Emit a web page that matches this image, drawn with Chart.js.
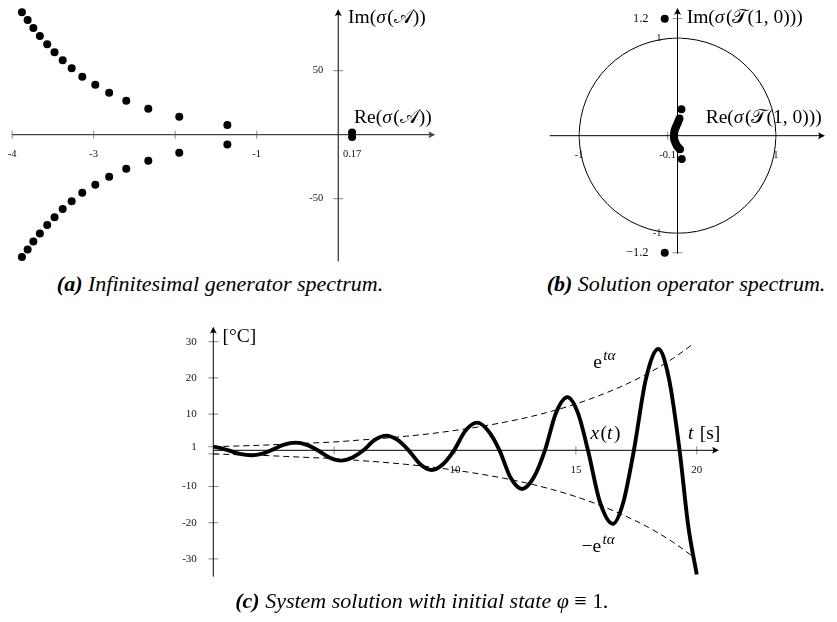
<!DOCTYPE html>
<html>
<head>
<meta charset="utf-8">
<script src="https://cdn.jsdelivr.net/npm/chart.js@4/dist/chart.umd.min.js"></script>
<style>
  html, body { margin: 0; padding: 0; background: #fff; }
  body { width: 837px; height: 622px; position: relative; overflow: hidden; font-family: "Liberation Serif", serif; color: #000; }
  canvas { position: absolute; }
  .cap { position: absolute; font-style: italic; font-size: 22px; white-space: nowrap; line-height: 1; transform: translateX(-50%); }
  .cap b { font-weight: bold; }
  .cap .up { font-style: normal; }
</style>
</head>
<body>
<canvas id="genChart" width="450" height="270" style="left:0;top:0"></canvas>
<canvas id="opChart" width="307" height="270" style="left:530px;top:0"></canvas>
<canvas id="solChart" width="600" height="290" style="left:160px;top:300px"></canvas>
<div class="cap" style="left:220px;top:273px"><b>(a)</b> Infinitesimal generator spectrum.</div>
<div class="cap" style="left:686px;top:273px"><b>(b)</b> Solution operator spectrum.</div>
<div class="cap" style="left:422px;top:590px"><b>(c)</b> System solution with initial state φ <span class="up">≡ 1</span>.</div>
<script>
// ---- (a) spectrum of the infinitesimal generator (upper branch; lower branch is its conjugate)
const genRe = [-3.88, -3.81, -3.74, -3.66, -3.57, -3.48, -3.38, -3.27, -3.14, -2.98, -2.81, -2.60, -2.33, -1.95, -1.36];
const genIm = [95.6, 89.6, 83.4, 77.1, 70.6, 64.4, 58.1, 51.9, 45.3, 39.1, 32.8, 26.6, 20.3, 14.1, 7.6];
const genRealRe = [0.17, 0.17];
const genRealIm = [1.8, -1.8];
const genXTickVals = [-4, -3, -2, -1, 0.17];
const genXTickText = ['-4', '-3', '', '-1', '0.17'];
const genYTickVals = [50, -50];
const genYTickText = ['50', '-50'];

// ---- (b) spectrum of the solution operator T(1,0)
const opRe = [-0.13, 0.04, 0.02, 0.01, 0.0, -0.012, -0.022, -0.03, -0.035, -0.037, -0.036, -0.03, -0.02, -0.008, 0.008, 0.025, 0.043, -0.13];
const opIm = [1.2, 0.27, 0.175, 0.15, 0.125, 0.1, 0.075, 0.05, 0.025, 0.0, -0.025, -0.05, -0.075, -0.1, -0.12, -0.14, -0.24, -1.2];
const opXTickVals = [-1, -0.1, 1];
const opXTickText = ['-1', '-0.1', '1'];
const opYTickVals = [1.2, 1, -1, -1.2];
const opYTickText = ['1.2', '1', '-1', '\u22121.2'];
const unitRadius = 1;

// ---- (c) system solution x(t) and its exponential envelope
const solT = [0.00, 0.30, 0.63, 1.10, 1.59, 2.00, 2.40, 2.90, 3.41, 3.87, 4.32, 4.80, 5.28, 5.75, 6.21, 6.68, 7.15, 7.62, 8.08, 8.56, 9.04, 9.50, 9.96, 10.43, 10.91, 11.37, 11.84, 12.30, 12.77, 13.25, 13.72, 14.18, 14.65, 15.08, 15.50, 16.00, 16.53, 16.96, 17.40, 17.90, 18.41, 18.85, 19.29, 19.65, 20.00];
const solX = [1.00, 0.60, 0.00, -1.00, -1.38, -1.00, 0.00, 1.50, 2.12, 1.50, 0.00, -2.00, -2.85, -2.00, 0.00, 2.85, 4.05, 2.85, 0.00, -3.85, -5.43, -3.85, 0.00, 5.40, 7.64, 5.40, 0.00, -7.60, -10.70, -7.60, 0.00, 10.40, 14.70, 10.40, 0.00, -14.40, -20.30, -14.40, 0.00, 19.80, 28.00, 19.80, 0.00, -21.00, -34.30];
const envT = [0, 1, 2, 3, 4, 5, 6, 7, 8, 9, 10, 11, 12, 13, 14, 15, 16, 17, 18, 19, 19.9];
const envUp = [1.0, 1.2, 1.4, 1.7, 2.0, 2.3, 2.8, 3.3, 3.9, 4.6, 5.5, 6.5, 7.7, 9.1, 10.8, 12.8, 15.2, 18.0, 21.3, 25.3, 29.6];
const envLow = [-1.0, -1.2, -1.4, -1.7, -2.0, -2.3, -2.8, -3.3, -3.9, -4.6, -5.5, -6.5, -7.7, -9.1, -10.8, -12.8, -15.2, -18.0, -21.3, -25.3, -29.6];
const solXTickVals = [5, 10, 15, 20];
const solXTickText = ['', '10', '15', '20'];
const solYTickVals = [30, 20, 10, 1, -1, -10, -20, -30];
const solYTickText = ['30', '20', '10', '1', '', '-10', '-20', '-30'];

const SERIF = '"Liberation Serif", "DejaVu Serif", serif';
const MATH = '"DejaVu Serif", "DejaVu Sans", serif';

function pts(xs, ys, sign) {
  return xs.map((x, i) => ({ x: x, y: (sign || 1) * ys[i] }));
}

// Rich text: parts are [text, style] with r = roman, i = italic, m = math script, si = italic superscript
function drawRich(ctx, x, y, parts, size) {
  let cx = x;
  ctx.textBaseline = 'alphabetic';
  ctx.textAlign = 'left';
  for (const [txt, st] of parts) {
    const sup = st.startsWith('s');
    const fs = sup ? size * 0.78 : size;
    const fam = st === 'm' ? MATH : SERIF;
    ctx.font = (st.includes('i') ? 'italic ' : '') + fs + 'px ' + fam;
    if (sup) cx += 1.5;
    ctx.fillText(txt, cx, sup ? y - size * 0.42 : y);
    cx += ctx.measureText(txt).width + (st === 'i' ? 1.5 : 0);
  }
}

function arrowHead(ctx, x, y, dir) {
  ctx.save();
  ctx.translate(x, y);
  if (dir === 'up') ctx.rotate(-Math.PI / 2);
  ctx.beginPath();
  ctx.moveTo(0, 0);
  ctx.lineTo(-7, -3.5);
  ctx.quadraticCurveTo(-4.5, 0, -7, 3.5);
  ctx.closePath();
  ctx.fill();
  ctx.restore();
}

// Axes through the origin with crossing tick marks, drawn from the chart's own scales
function axesPlugin(cfg) {
  return {
    id: 'axesThroughOrigin',
    beforeDatasetsDraw(chart) {
      const ctx = chart.ctx;
      const xs = chart.scales.x, ys = chart.scales.y;
      const x0 = xs.getPixelForValue(0), y0 = ys.getPixelForValue(0);
      ctx.save();
      if (cfg.extra) cfg.extra(chart, ctx);
      // tick marks
      ctx.strokeStyle = cfg.tickColor;
      ctx.lineWidth = 1;
      cfg.xTicks.forEach(v => {
        const px = xs.getPixelForValue(v);
        ctx.beginPath(); ctx.moveTo(px, y0 - cfg.tickLen); ctx.lineTo(px, y0 + cfg.tickLen); ctx.stroke();
      });
      cfg.yTicks.forEach(v => {
        const py = ys.getPixelForValue(v);
        ctx.beginPath(); ctx.moveTo(x0 - cfg.tickLen - 1, py); ctx.lineTo(x0 + cfg.tickLen + 1, py); ctx.stroke();
      });
      // tick labels
      ctx.fillStyle = '#111';
      ctx.textBaseline = 'middle';
      ctx.textAlign = 'center';
      cfg.xTicks.forEach((v, i) => {
        ctx.font = cfg.tickFont + 'px ' + SERIF;
        ctx.fillText(cfg.xText[i], xs.getPixelForValue(v), y0 + cfg.xLabelGap);
      });
      ctx.textAlign = 'right';
      cfg.yTicks.forEach((v, i) => {
        const big = cfg.bigY && cfg.bigY.includes(v);
        ctx.font = (big ? cfg.bigFont : cfg.tickFont) + 'px ' + SERIF;
        const gap = big ? cfg.bigGap : cfg.yLabelGap;
        ctx.fillText(cfg.yText[i], x0 - gap, ys.getPixelForValue(v));
      });
      // axis lines with arrows
      const xa = xs.getPixelForValue(cfg.xFrom), xb = xs.getPixelForValue(cfg.xTo);
      const ya = ys.getPixelForValue(cfg.yFrom), yb = ys.getPixelForValue(cfg.yTo);
      ctx.lineWidth = cfg.xAxisWidth;
      ctx.strokeStyle = cfg.xAxisColor;
      ctx.fillStyle = cfg.xAxisColor;
      ctx.beginPath(); ctx.moveTo(xa, y0); ctx.lineTo(xb - 3, y0); ctx.stroke();
      arrowHead(ctx, xb, y0, 'right');
      ctx.lineWidth = 1;
      ctx.strokeStyle = '#000';
      ctx.fillStyle = '#000';
      ctx.beginPath(); ctx.moveTo(x0, ya); ctx.lineTo(x0, yb + 3); ctx.stroke();
      arrowHead(ctx, x0, yb, 'up');
      ctx.restore();
    },
    afterDatasetsDraw(chart) {
      const ctx = chart.ctx;
      ctx.save();
      ctx.fillStyle = '#000';
      cfg.titles.forEach(t => drawRich(ctx, t.x, t.y, t.parts, t.size));
      ctx.restore();
    }
  };
}

function baseOptions(xr, yr, pad) {
  return {
    responsive: false,
    animation: false,
    events: [],
    layout: { padding: pad },
    plugins: { legend: { display: false }, tooltip: { enabled: false } },
    scales: {
      x: { type: 'linear', min: xr[0], max: xr[1], display: false },
      y: { type: 'linear', min: yr[0], max: yr[1], display: false }
    }
  };
}

const dot = { pointRadius: 4, pointBackgroundColor: '#000', pointBorderWidth: 0, showLine: false, clip: false };

// (a)
new Chart(document.getElementById('genChart'), {
  type: 'scatter',
  data: {
    datasets: [
      Object.assign({ data: pts(genRe, genIm, 1) }, dot),
      Object.assign({ data: pts(genRe, genIm, -1) }, dot),
      Object.assign({ data: pts(genRealRe, genRealIm, 1) }, dot)
    ]
  },
  options: baseOptions([-4.1, 1.3], [-100, 100], { left: 3.0, right: 5.8, top: 6.7, bottom: 7.3 }),
  plugins: [axesPlugin({
    xTicks: genXTickVals, xText: genXTickText, yTicks: genYTickVals, yText: genYTickText,
    tickLen: 4, tickColor: '#8a8a8a', tickFont: 10.5, xLabelGap: 20, yLabelGap: 15,
    xFrom: -4, xTo: 1.19, yFrom: -99, yTo: 98,
    xAxisWidth: 1.3, xAxisColor: '#444',
    titles: [
      { x: 348, y: 23.3, size: 19.5, parts: [['Im(', 'r'], ['\u03C3', 'i'], ['(', 'r'], ['\uD835\uDC9C', 'm'], ['))', 'r']] },
      { x: 354, y: 122.7, size: 19.5, parts: [['Re(', 'r'], ['\u03C3', 'i'], ['(', 'r'], ['\uD835\uDC9C', 'm'], ['))', 'r']] }
    ]
  })]
});

// (b)
new Chart(document.getElementById('opChart'), {
  type: 'scatter',
  data: { datasets: [Object.assign({ data: pts(opRe, opIm, 1) }, dot)] },
  options: baseOptions([-1.4, 1.5], [-1.3, 1.35], { left: 9.9, right: 12.05, top: 2.0, bottom: 7.5 }),
  plugins: [axesPlugin({
    xTicks: opXTickVals, xText: opXTickText, yTicks: opYTickVals, yText: opYTickText,
    tickLen: 4, tickColor: '#8a8a8a', tickFont: 10.5, xLabelGap: 20, yLabelGap: 16,
    bigY: [1.2, -1.2], bigFont: 12.5, bigGap: 29,
    xFrom: -1.3, xTo: 1.5, yFrom: -1.21, yTo: 1.31,
    xAxisWidth: 1, xAxisColor: '#000',
    extra(chart, ctx) {
      const xs = chart.scales.x, ys = chart.scales.y;
      const cx = xs.getPixelForValue(0), cy = ys.getPixelForValue(0);
      const rx = xs.getPixelForValue(unitRadius) - cx, ry = cy - ys.getPixelForValue(unitRadius);
      ctx.beginPath();
      ctx.ellipse(cx, cy, rx, ry, 0, 0, Math.PI * 2);
      ctx.strokeStyle = '#000';
      ctx.lineWidth = 1;
      ctx.stroke();
    },
    titles: [
      { x: 156.7, y: 23, size: 19.5, parts: [['Im(', 'r'], ['\u03C3', 'i'], ['(', 'r'], ['\uD835\uDCAF', 'm'], ['(1, 0)))', 'r']] },
      { x: 175.7, y: 122.5, size: 19.5, parts: [['Re(', 'r'], ['\u03C3', 'i'], ['(', 'r'], ['\uD835\uDCAF', 'm'], ['(1, 0)))', 'r']] }
    ]
  })]
});

// (c)
new Chart(document.getElementById('solChart'), {
  type: 'scatter',
  data: {
    datasets: [
      { data: pts(solT, solX, 1), showLine: true, borderColor: '#000', borderWidth: 3.9, pointRadius: 0, cubicInterpolationMode: 'monotone', clip: false },
      { data: pts(envT, envUp, 1), showLine: true, borderColor: '#000', borderWidth: 1, borderDash: [6, 4], pointRadius: 0, cubicInterpolationMode: 'monotone', clip: false },
      { data: pts(envT, envLow, 1), showLine: true, borderColor: '#000', borderWidth: 1, borderDash: [6, 4], pointRadius: 0, cubicInterpolationMode: 'monotone', clip: false }
    ]
  },
  options: baseOptions([0, 21.5], [-36, 36], { left: 53.3, right: 27, top: 19.98, bottom: 9.38 }),
  plugins: [axesPlugin({
    xTicks: solXTickVals, xText: solXTickText, yTicks: solYTickVals, yText: solYTickText,
    tickLen: 4, tickColor: '#8a8a8a', tickFont: 11, xLabelGap: 20, yLabelGap: 16.5,
    xFrom: 0, xTo: 20.92, yFrom: -34.9, yTo: 34.1,
    xAxisWidth: 1, xAxisColor: '#000',
    titles: [
      { x: 62.5, y: 41.5, size: 19.5, parts: [['[\u00B0C]', 'r']] },
      { x: 433.2, y: 68.3, size: 19.5, parts: [['e', 'r'], ['t\u03B1', 'si']] },
      { x: 430.4, y: 139, size: 19.5, parts: [['x', 'i'], ['(', 'r'], ['t', 'i'], [')', 'r']] },
      { x: 527.9, y: 139, size: 19.5, parts: [['t', 'i'], [' [s]', 'r']] },
      { x: 421.4, y: 251.7, size: 19.5, parts: [['\u2212e', 'r'], ['t\u03B1', 'si']] }
    ]
  })]
});
</script>
</body>
</html>
